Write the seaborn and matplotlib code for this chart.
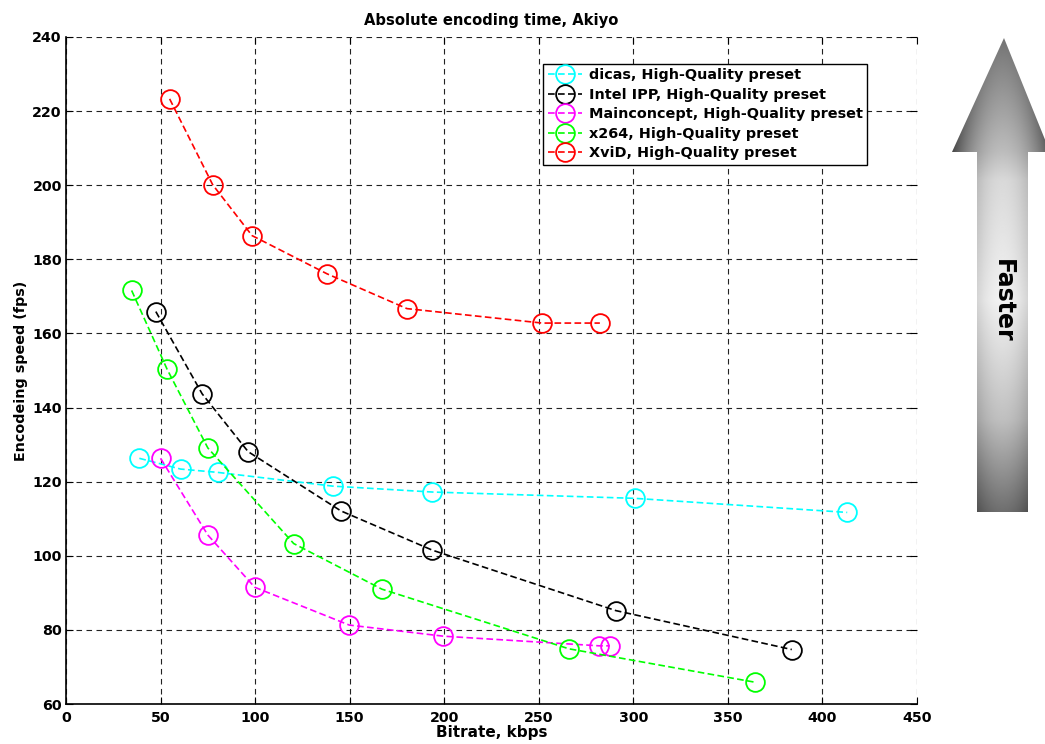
import numpy as np
import matplotlib
matplotlib.use("Agg")
import matplotlib.pyplot as plt
import seaborn as sns
from matplotlib.patches import Polygon

plt.rcParams['font.family'] = ['DejaVu Sans']
plt.rcParams['font.weight'] = 'bold'

# ---- data ----
dicas_x = [38.8, 60.6, 80.3, 141.0, 193.8, 300.8, 413.1]
dicas_y = [126.3, 123.4, 122.5, 118.8, 117.2, 115.5, 111.7]
intel_x = [47.5, 72.0, 96.3, 145.4, 193.8, 290.8, 383.8]
intel_y = [165.9, 143.7, 128.1, 112.1, 101.5, 85.2, 74.7]
mc_x = [50.0, 75.0, 99.8, 149.8, 199.6, 281.9, 287.6]
mc_y = [126.3, 105.6, 91.5, 81.3, 78.3, 75.7, 75.7]
x264_x = [34.7, 53.5, 75.0, 120.4, 167.0, 265.9, 364.1]
x264_y = [171.6, 150.3, 129.1, 103.3, 91.0, 74.9, 65.9]
xvid_x = [54.8, 77.6, 98.4, 138.0, 180.3, 251.8, 282.3]
xvid_y = [223.3, 200.1, 186.4, 176.1, 166.7, 162.8, 162.8]

series_labels = ["dicas, High-Quality preset",
                 "Intel IPP, High-Quality preset",
                 "Mainconcept, High-Quality preset",
                 "x264, High-Quality preset",
                 "XviD, High-Quality preset"]
series_colors = ["#00FFFF", "#000000", "#FF00FF", "#00FF00", "#FF0000"]
series = [(dicas_x, dicas_y), (intel_x, intel_y), (mc_x, mc_y),
          (x264_x, x264_y), (xvid_x, xvid_y)]

x_ticks = [0, 50, 100, 150, 200, 250, 300, 350, 400, 450]
y_ticks = [60, 80, 100, 120, 140, 160, 180, 200, 220, 240]

W, H = 1045, 744
fig = plt.figure(figsize=(W / 100, H / 100), dpi=100)
ax = fig.add_axes([66 / W, 1 - 704 / H, (917 - 66) / W, (704 - 37) / H])

for (xs, ys), lab, col in zip(series, series_labels, series_colors):
    sns.lineplot(x=xs, y=ys, ax=ax, sort=False, color=col, label=lab,
                 marker='o', markersize=13.5, markerfacecolor='none',
                 markeredgecolor=col, markeredgewidth=1.3,
                 linewidth=1.2, dashes=False, linestyle=(0, (4, 2)))

ax.set_xlim(0, 450)
ax.set_ylim(60, 240)
ax.set_xticks(x_ticks)
ax.set_yticks(y_ticks)
ax.set_xticklabels([str(v) for v in x_ticks], fontsize=10.3, fontweight='bold')
ax.set_yticklabels([str(v) for v in y_ticks], fontsize=10.3, fontweight='bold')
ax.tick_params(direction='in', length=5, width=0.8, top=True, right=True)
ax.tick_params(axis='x', pad=5)
ax.tick_params(axis='y', pad=3)
ax.grid(True, color='#222222', linestyle=(0, (5, 4)), linewidth=0.8)
ax.set_axisbelow(True)
for s in ['top', 'right']:
    ax.spines[s].set_visible(False)
for s in ['left', 'bottom']:
    ax.spines[s].set_linewidth(1.2)

ax.set_title("Absolute encoding time, Akiyo", fontsize=10.6, fontweight='bold', pad=9)
ax.set_xlabel("Bitrate, kbps", fontsize=11, fontweight='bold', labelpad=0)
ax.set_ylabel("Encodeing speed (fps)", fontsize=10.3, fontweight='bold', labelpad=3)

leg = ax.legend(loc='upper right', bbox_to_anchor=((867 - 66) / 851, (704 - 64) / 667),
                borderaxespad=0, frameon=True, fancybox=False, edgecolor='black',
                framealpha=1, handlelength=2.4, handletextpad=0.45, borderpad=0.3,
                labelspacing=0.38, prop={'weight': 'bold', 'size': 10.4})
leg.get_frame().set_linewidth(1.0)

# ---- gradient "Faster" arrow ----
x0, x1, y0, y1 = 950, 1045, 36, 516
aax = fig.add_axes([x0 / W, 1 - y1 / H, (x1 - x0) / W, (y1 - y0) / H])
aax.set_xlim(x0, x1)
aax.set_ylim(y1, y0)
aax.axis('off')
xx, yy = np.meshgrid(np.linspace(x0, x1, 200), np.linspace(y0, y1, 600))
base = np.interp(yy, [36, 152, 180, 300, 420, 516], [0.45, 0.74, 0.85, 0.95, 0.75, 0.42])
u = (xx - 1002.5) / 46.0
val = np.clip(base - 0.38 * u ** 2, 0, 1)
im = aax.imshow(val, extent=(x0, x1, y1, y0), cmap='gray', vmin=0, vmax=1,
                aspect='auto', interpolation='bilinear')
poly = Polygon([(977, 512), (1028, 512), (1028, 152), (1050, 152),
                (1004, 38), (952, 152), (977, 152)], closed=True,
               facecolor='none', edgecolor='none', transform=aax.transData)
aax.add_patch(poly)
im.set_clip_path(poly)
aax.text(1002.5, 301, "Faster", rotation=-90, ha='center', va='center',
         fontsize=17, fontweight='bold', color='black')

fig.savefig("out.png", dpi=100)
